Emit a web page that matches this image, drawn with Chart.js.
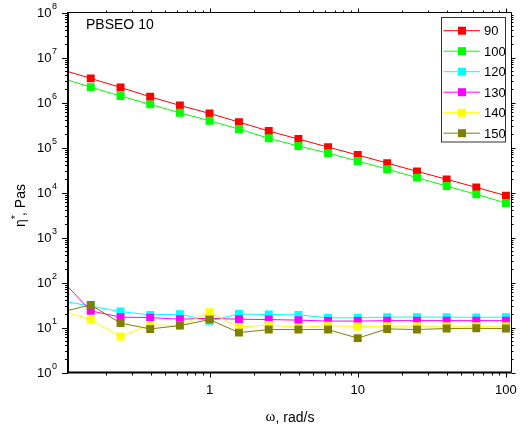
<!DOCTYPE html>
<html>
<head>
<meta charset="utf-8">
<script src="https://cdn.jsdelivr.net/npm/chart.js@4"></script>
<style>
  html, body { margin: 0; padding: 0; background: #fff; }
  #wrap { width: 522px; height: 428px; }
</style>
</head>
<body>
<div id="wrap"><canvas id="etaChart" width="522" height="428"></canvas></div>
<script>
// angular frequency, rad/s
const omega = [0.1, 0.158, 0.251, 0.398, 0.631, 1, 1.58, 2.51, 3.98, 6.31, 10, 15.8, 25.1, 39.8, 63.1, 100];

// complex viscosity, Pas, per temperature
const eta90  = [5.4e6, 3.43e6, 2.16e6, 1.34e6, 8.6e5, 5.73e5, 3.67e5, 2.32e5, 1.54e5, 1.02e5, 6.8e4, 4.5e4, 2.95e4, 1.96e4, 1.3e4, 8.5e3];
const eta100 = [3.5e6, 2.2e6, 1.39e6, 9.1e5, 5.9e5, 3.93e5, 2.57e5, 1.6e5, 1.08e5, 7.5e4, 5.0e4, 3.3e4, 2.14e4, 1.39e4, 9.1e3, 5.85e3];
const eta120 = [39, 30, 22.6, 19.1, 19.8, 14.1, 20, 19.4, 19.1, 16.4, 16.4, 17, 17, 17, 16.8, 17];
const eta130 = [115, 23.4, 17, 16.6, 15.3, 16, 15.3, 15, 14.6, 13.9, 13.9, 14.2, 14.2, 14.2, 14.2, 14.2];
const eta140 = [24, 14.8, 6.3, 11.4, 11, 21.9, 10.2, 11.4, 10, 11, 10.5, 10.7, 10.7, 10.7, 10.7, 10.7];
const eta150 = [22, 31.8, 12.5, 9.3, 11, 15, 7.7, 9, 9, 9, 5.8, 9.3, 9.0, 9.5, 9.6, 9.5];

const seriesNames = ['90', '100', '120', '130', '140', '150'];
const seriesData = [eta90, eta100, eta120, eta130, eta140, eta150];
const seriesColors = ['#ff0000', '#00ff00', '#00ffff', '#ff00ff', '#ffff00', '#808000'];

const yTickValues = [1, 10, 100, 1e3, 1e4, 1e5, 1e6, 1e7, 1e8];
const xTickLabels = ['1', '10', '100'];

const FONT = 'Arial, "Liberation Sans", sans-serif';

function pts(arr) {
    return arr.map((v, i) => ({ x: omega[i], y: v }));
}

// frame, ticks, tick labels, titles, legend
const decorPlugin = {
    id: 'decor',
    afterDraw(chart) {
        const ctx = chart.ctx;
        const a = chart.chartArea;
        const xs = chart.scales.x, ys = chart.scales.y;
        ctx.save();

        // frame
        ctx.strokeStyle = '#000';
        ctx.lineWidth = 1;
        ctx.beginPath();
        ctx.moveTo(a.left, a.top);
        ctx.lineTo(a.right, a.top);
        ctx.lineTo(a.right, a.bottom);
        ctx.stroke();
        ctx.lineWidth = 2;
        ctx.beginPath();
        ctx.moveTo(a.left, a.top - 0.5);
        ctx.lineTo(a.left, a.bottom);
        ctx.lineTo(a.right, a.bottom);
        ctx.stroke();

        // y ticks
        ctx.lineWidth = 1;
        ctx.beginPath();
        for (let e = 0; e < 8; e++) {
            for (let m = 1; m <= 9; m++) {
                const py = Math.round(ys.getPixelForValue(m * Math.pow(10, e))) + 0.5;
                const len = m === 1 ? 6 : 3;
                ctx.moveTo(a.left - len, py); ctx.lineTo(a.left, py);
                ctx.moveTo(a.right, py); ctx.lineTo(a.right + (m === 1 ? 4 : 2), py);
            }
        }
        const ptop = Math.round(ys.getPixelForValue(1e8)) + 0.5;
        ctx.moveTo(a.left - 6, ptop); ctx.lineTo(a.left, ptop);

        // x ticks
        for (let e = -1; e <= 2; e++) {
            for (let m = 1; m <= 9; m++) {
                const v = m * Math.pow(10, e);
                if (v < xs.min || v > xs.max) continue;
                const px = Math.round(xs.getPixelForValue(v)) + 0.5;
                const len = m === 1 ? 5 : 3;
                ctx.moveTo(px, a.bottom); ctx.lineTo(px, a.bottom + len);
                ctx.moveTo(px, a.top); ctx.lineTo(px, a.top - (m === 1 ? 4 : 2));
            }
        }
        ctx.stroke();

        // y tick labels 10^n
        ctx.fillStyle = '#000';
        yTickValues.forEach(v => {
            const py = ys.getPixelForValue(v);
            ctx.font = '13px ' + FONT;
            ctx.textAlign = 'right';
            ctx.textBaseline = 'middle';
            ctx.fillText('10', 51.5, py + 1);
            ctx.font = '9px ' + FONT;
            ctx.textAlign = 'left';
            ctx.fillText(String(Math.round(Math.log10(v))), 52, py - 6);
        });

        // x tick labels
        ctx.font = '13px ' + FONT;
        ctx.textAlign = 'center';
        ctx.textBaseline = 'middle';
        xTickLabels.forEach(t => {
            ctx.fillText(t, xs.getPixelForValue(Number(t)), 390);
        });

        // x title
        ctx.font = '15px "Liberation Serif", "Times New Roman", serif';
        const w1 = ctx.measureText('ω').width;
        ctx.font = '14px ' + FONT;
        const w2 = ctx.measureText(', rad/s').width;
        const sx = 290 - (w1 + w2) / 2;
        ctx.textAlign = 'left';
        ctx.font = '15px "Liberation Serif", "Times New Roman", serif';
        ctx.fillText('ω', sx, 417);
        ctx.font = '14px ' + FONT;
        ctx.fillText(', rad/s', sx + w1, 418);

        // y title (rotated)
        ctx.save();
        ctx.translate(25, 205);
        ctx.rotate(-Math.PI / 2);
        ctx.textBaseline = 'alphabetic';
        ctx.textAlign = 'left';
        ctx.font = '14px ' + FONT;
        const wEta = ctx.measureText('η').width;
        const wRest = ctx.measureText(', Pas').width;
        ctx.font = '11px ' + FONT;
        const wStar = ctx.measureText('*').width;
        const tx = -(wEta + wStar + wRest) / 2;
        ctx.font = '14px ' + FONT;
        ctx.fillText('η', tx, 0);
        ctx.font = '11px ' + FONT;
        ctx.fillText('*', tx + wEta, -6);
        ctx.font = '14px ' + FONT;
        ctx.fillText(', Pas', tx + wEta + wStar - 1, 0);
        ctx.restore();

        // sample label
        ctx.font = '14px ' + FONT;
        ctx.textAlign = 'left';
        ctx.textBaseline = 'middle';
        ctx.fillText('PBSEO 10', 86, 25);

        // legend
        ctx.strokeStyle = '#333';
        ctx.lineWidth = 1;
        ctx.strokeRect(441.5, 17.5, 64, 124.5);
        ctx.font = '13px ' + FONT;
        chart.data.datasets.forEach((ds, i) => {
            const ry = 30.7 + i * 20.5;
            ctx.strokeStyle = ds.borderColor;
            ctx.beginPath();
            ctx.moveTo(443.5, ry); ctx.lineTo(480, ry);
            ctx.stroke();
            ctx.fillStyle = ds.backgroundColor;
            ctx.fillRect(458, ry - 4, 8, 8);
            ctx.fillStyle = '#000';
            ctx.fillText(ds.label, 484, ry + 1);
        });

        ctx.restore();
    }
};

new Chart(document.getElementById('etaChart'), {
    type: 'line',
    data: {
        datasets: seriesNames.map((name, i) => ({
            label: name,
            data: pts(seriesData[i]),
            borderColor: seriesColors[i],
            backgroundColor: seriesColors[i],
            borderWidth: 1,
            pointStyle: 'rect',
            pointRadius: 5.6,
            pointBorderWidth: 0,
            pointHoverRadius: 5.6,
            fill: false,
            tension: 0,
            order: seriesNames.length - i
        }))
    },
    options: {
        responsive: false,
        animation: false,
        layout: { padding: { left: 0, top: 12.5, right: 10.5, bottom: 0 } },
        plugins: {
            legend: { display: false },
            tooltip: { enabled: false }
        },
        scales: {
            x: {
                type: 'logarithmic',
                min: 0.111,
                max: 109,
                ticks: { display: false },
                grid: { display: false },
                border: { display: false },
                afterFit: s => { s.height = 55.5; }
            },
            y: {
                type: 'logarithmic',
                min: 1,
                max: 1e8,
                ticks: { display: false },
                grid: { display: false },
                border: { display: false },
                afterFit: s => { s.width = 68; }
            }
        }
    },
    plugins: [decorPlugin]
});
</script>
</body>
</html>
